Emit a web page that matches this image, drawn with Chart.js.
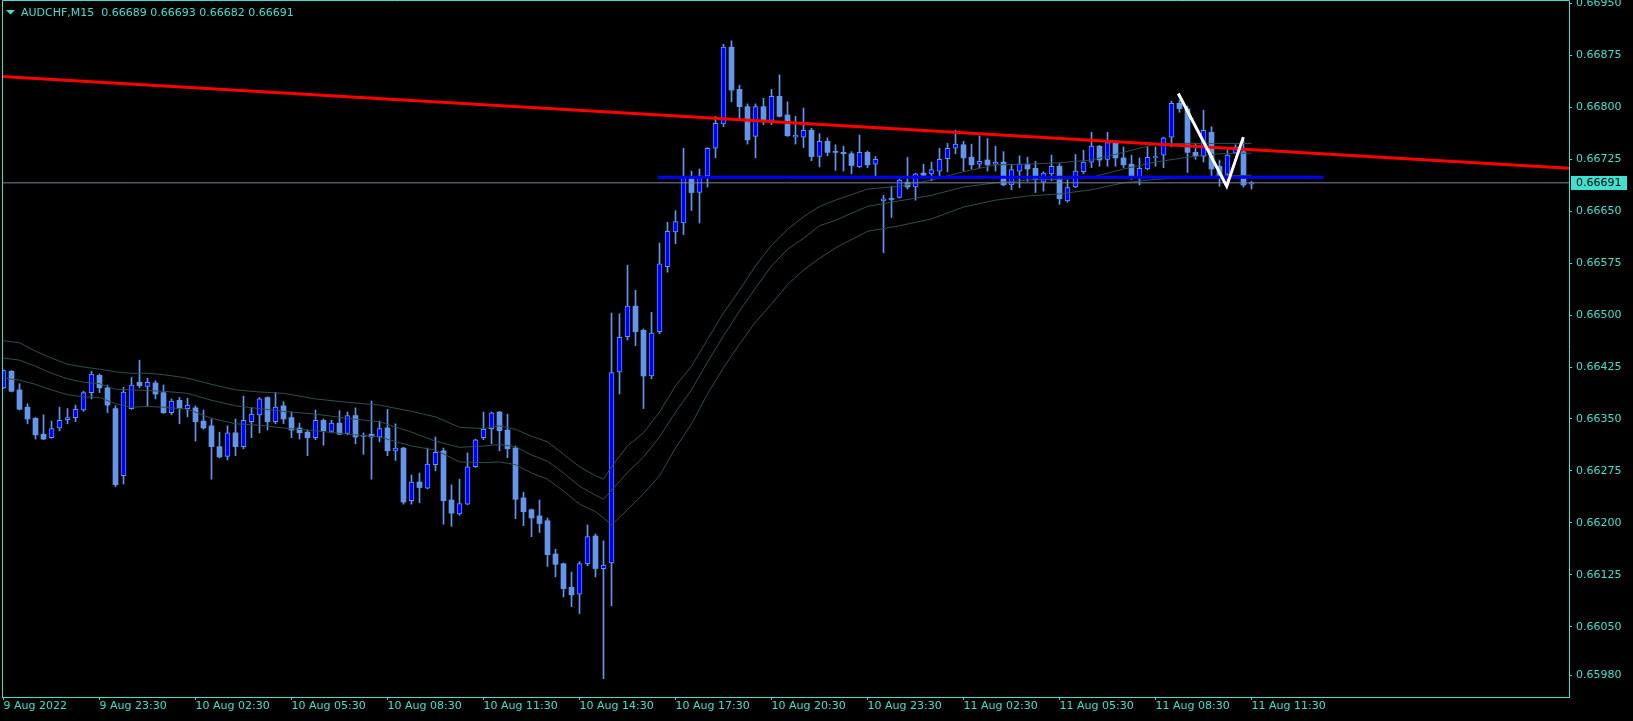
<!DOCTYPE html>
<html>
<head>
<meta charset="utf-8">
<style>
html,body{margin:0;padding:0;background:#000;overflow:hidden}
canvas{display:block}
</style>
<script src="https://cdn.jsdelivr.net/npm/chart.js"></script>
</head>
<body>
<canvas id="c" width="1633" height="721"></canvas>
<script>
// ---------- DATA (AUDCHF, M15) ----------
const symbolTitle = 'AUDCHF,M15';
const timeLabels = ['9 Aug 2022','9 Aug 23:30','10 Aug 02:30','10 Aug 05:30','10 Aug 08:30','10 Aug 11:30','10 Aug 14:30','10 Aug 17:30','10 Aug 20:30','10 Aug 23:30','11 Aug 02:30','11 Aug 05:30','11 Aug 08:30','11 Aug 11:30'];
const timeLabelBars = [0,12,24,36,48,60,72,84,96,108,120,132,144,156];
const priceTicks = [0.66950,0.66875,0.66800,0.66725,0.66650,0.66575,0.66500,0.66425,0.66350,0.66275,0.66200,0.66125,0.66050,0.65980];

const opens = [0.66395,0.66419,0.66392,0.66367,0.66351,0.66328,0.66323,0.66337,0.66349,0.66352,
0.66363,0.66388,0.66413,0.66395,0.66365,0.66268,0.66365,0.66403,0.66397,0.66402,
0.66388,0.66359,0.66377,0.66365,0.66366,0.66347,0.66340,0.66310,0.66296,0.66330,
0.66310,0.66346,0.66356,0.66381,0.66346,0.66369,0.66352,0.66337,0.66331,0.66323,
0.66348,0.66332,0.66344,0.66329,0.66355,0.66326,0.66328,0.66324,0.66337,0.66304,
0.66308,0.66232,0.66259,0.66250,0.66284,0.66304,0.66233,0.66213,0.66227,0.66281,
0.66323,0.66336,0.66360,0.66334,0.66308,0.66236,0.66219,0.66210,0.66203,0.66155,
0.66141,0.66107,0.66097,0.66141,0.66181,0.66134,0.66142,0.66418,0.66469,0.66513,
0.66478,0.66412,0.66476,0.66570,0.66620,0.66633,0.66697,0.66677,0.66701,0.66741,
0.66776,0.66887,0.66826,0.66801,0.66758,0.66801,0.66781,0.66816,0.66789,0.66757,
0.66757,0.66767,0.66729,0.66751,0.66736,0.66735,0.66733,0.66714,0.66735,0.66718,
0.66665,0.66668,0.66670,0.66692,0.66685,0.66705,0.66704,0.66708,0.66726,0.66741,
0.66746,0.66728,0.66718,0.66724,0.66718,0.66721,0.66688,0.66708,0.66718,0.66712,
0.66692,0.66704,0.66715,0.66665,0.66685,0.66707,0.66721,0.66744,0.66725,0.66749,
0.66727,0.66718,0.66699,0.66711,0.66727,0.66731,0.66757,0.66806,0.66798,0.66735,
0.66729,0.66764,0.66715,0.66703,0.66734,0.66736,0.66689];

const highs = [0.66421,0.66420,0.66401,0.66372,0.66352,0.66356,0.66347,0.66367,0.66365,0.66370,
0.66390,0.66419,0.66415,0.66399,0.66369,0.66396,0.66410,0.66435,0.66409,0.66405,
0.66399,0.66379,0.66381,0.66380,0.66369,0.66363,0.66350,0.66331,0.66340,0.66350,
0.66383,0.66366,0.66381,0.66382,0.66388,0.66375,0.66360,0.66344,0.66334,0.66363,
0.66350,0.66348,0.66362,0.66360,0.66366,0.66330,0.66376,0.66347,0.66364,0.66343,
0.66309,0.66269,0.66272,0.66308,0.66324,0.66308,0.66255,0.66263,0.66301,0.66321,
0.66360,0.66360,0.66361,0.66357,0.66311,0.66244,0.66220,0.66233,0.66207,0.66162,
0.66142,0.66129,0.66144,0.66197,0.66184,0.66174,0.66503,0.66502,0.66572,0.66536,
0.66480,0.66504,0.66604,0.66634,0.66651,0.66741,0.66708,0.66711,0.66742,0.66787,
0.66891,0.66896,0.66832,0.66805,0.66805,0.66813,0.66826,0.66847,0.66808,0.66787,
0.66799,0.66770,0.66762,0.66756,0.66746,0.66744,0.66736,0.66760,0.66737,0.66729,
0.66673,0.66686,0.66697,0.66728,0.66705,0.66718,0.66721,0.66741,0.66748,0.66767,
0.66751,0.66747,0.66759,0.66755,0.66744,0.66736,0.66718,0.66730,0.66728,0.66722,
0.66707,0.66731,0.66719,0.66695,0.66732,0.66738,0.66764,0.66745,0.66764,0.66751,
0.66743,0.66731,0.66727,0.66743,0.66743,0.66757,0.66809,0.66810,0.66802,0.66748,
0.66796,0.66772,0.66724,0.66739,0.66746,0.66753,0.66693];

const lows = [0.66394,0.66389,0.66363,0.66343,0.66321,0.66320,0.66322,0.66333,0.66343,0.66346,
0.66361,0.66379,0.66388,0.66359,0.66252,0.66256,0.66364,0.66395,0.66369,0.66379,
0.66358,0.66356,0.66343,0.66353,0.66318,0.66335,0.66263,0.66294,0.66291,0.66297,
0.66307,0.66323,0.66330,0.66334,0.66343,0.66343,0.66323,0.66321,0.66297,0.66320,
0.66312,0.66330,0.66327,0.66327,0.66314,0.66299,0.66263,0.66317,0.66297,0.66290,
0.66227,0.66227,0.66229,0.66249,0.66275,0.66198,0.66195,0.66211,0.66226,0.66280,
0.66320,0.66314,0.66304,0.66294,0.66206,0.66196,0.66180,0.66186,0.66137,0.66122,
0.66093,0.66079,0.66069,0.66138,0.66122,0.65975,0.66080,0.66386,0.66464,0.66456,
0.66365,0.66408,0.66473,0.66562,0.66603,0.66616,0.66651,0.66633,0.66685,0.66727,
0.66772,0.66808,0.66784,0.66747,0.66727,0.66775,0.66775,0.66786,0.66758,0.66747,
0.66742,0.66723,0.66714,0.66730,0.66709,0.66708,0.66704,0.66713,0.66713,0.66700,
0.66590,0.66641,0.66669,0.66682,0.66666,0.66700,0.66694,0.66700,0.66707,0.66733,
0.66708,0.66711,0.66713,0.66708,0.66708,0.66687,0.66681,0.66684,0.66693,0.66677,
0.66679,0.66694,0.66660,0.66663,0.66684,0.66704,0.66713,0.66715,0.66715,0.66715,
0.66713,0.66696,0.66688,0.66710,0.66715,0.66713,0.66743,0.66793,0.66706,0.66725,
0.66721,0.66700,0.66686,0.66687,0.66733,0.66685,0.66682];

const closes = [0.66420,0.66390,0.66364,0.66350,0.66327,0.66321,0.66336,0.66348,0.66352,0.66364,
0.66388,0.66415,0.66395,0.66370,0.66255,0.66389,0.66399,0.66398,0.66403,0.66386,
0.66359,0.66376,0.66365,0.66370,0.66346,0.66337,0.66310,0.66295,0.66330,0.66310,
0.66348,0.66357,0.66379,0.66346,0.66367,0.66350,0.66334,0.66330,0.66323,0.66348,
0.66333,0.66344,0.66328,0.66355,0.66324,0.66325,0.66324,0.66336,0.66304,0.66308,
0.66230,0.66259,0.66251,0.66285,0.66302,0.66232,0.66214,0.66228,0.66281,0.66320,
0.66335,0.66359,0.66333,0.66307,0.66234,0.66216,0.66207,0.66199,0.66154,0.66140,
0.66105,0.66096,0.66141,0.66180,0.66134,0.66139,0.66417,0.66468,0.66513,0.66476,
0.66412,0.66474,0.66574,0.66621,0.66635,0.66699,0.66677,0.66701,0.66741,0.66777,
0.66887,0.66825,0.66801,0.66753,0.66801,0.66782,0.66816,0.66787,0.66759,0.66760,
0.66767,0.66729,0.66751,0.66735,0.66735,0.66733,0.66716,0.66735,0.66717,0.66725,
0.66668,0.66667,0.66695,0.66685,0.66704,0.66702,0.66710,0.66725,0.66741,0.66747,
0.66727,0.66717,0.66722,0.66717,0.66721,0.66688,0.66710,0.66718,0.66711,0.66696,
0.66705,0.66715,0.66668,0.66684,0.66708,0.66721,0.66744,0.66724,0.66749,0.66727,
0.66717,0.66700,0.66712,0.66728,0.66729,0.66756,0.66806,0.66798,0.66735,0.66730,
0.66767,0.66711,0.66700,0.66731,0.66743,0.66688,0.66691];

// indicator lines, read at sampled bars
const maBars = [0,2,4,6,8,10,12,14,16,18,20,23,26,29,32,35,39,43,47,51,54,57,60,62,64,66,68,70,72,74,75,76,78,80,82,84,86,88,90,92,94,96,98,100,102,104,108,112,116,120,124,128,132,136,140,144,148,152,156];
const maUpper = [0.66463,0.66460,0.66448,0.66438,0.66429,0.66425,0.66422,0.66418,0.66416,0.66416,0.66414,
0.66409,0.66400,0.66392,0.66389,0.66387,0.66379,0.66374,0.66370,0.66361,0.66353,0.66338,0.66336,
0.66340,0.66335,0.66325,0.66317,0.66299,0.66281,0.66268,0.66263,0.66281,
0.66311,0.66330,0.66360,0.66398,0.66426,0.66465,0.66503,0.66536,0.66571,0.66601,0.66624,0.66642,0.66657,0.66666,
0.66682,0.66686,0.66695,0.66707,0.66717,0.66718,0.66720,0.66724,0.66735,0.66747,0.66748,0.66748,0.66748];
const maMiddle = [0.66438,0.66435,0.66426,0.66416,0.66408,0.66403,0.66401,0.66393,0.66392,0.66391,0.66390,
0.66387,0.66377,0.66369,0.66365,0.66361,0.66357,0.66351,0.66346,0.66331,0.66318,0.66309,0.66311,
0.66313,0.66310,0.66298,0.66289,0.66272,0.66253,0.66240,0.66234,0.66247,
0.66273,0.66295,0.66324,0.66360,0.66392,0.66432,0.66470,0.66506,0.66539,0.66571,0.66595,0.66611,0.66629,0.66637,
0.66657,0.66665,0.66673,0.66685,0.66691,0.66695,0.66696,0.66699,0.66711,0.66721,0.66728,0.66733,0.66734];
const maLower = [0.66409,0.66406,0.66400,0.66392,0.66385,0.66382,0.66381,0.66372,0.66367,0.66368,0.66367,
0.66364,0.66351,0.66343,0.66341,0.66337,0.66333,0.66328,0.66324,0.66311,0.66305,0.66288,0.66287,
0.66288,0.66284,0.66272,0.66263,0.66246,0.66227,0.66216,0.66207,0.66197,
0.66219,0.66242,0.66268,0.66308,0.66343,0.66386,0.66424,0.66458,0.66490,0.66516,0.66544,0.66565,0.66582,0.66597,
0.66621,0.66629,0.66639,0.66656,0.66666,0.66672,0.66675,0.66681,0.66691,0.66696,0.66699,0.66701,0.66702];

// drawn objects (bar index, price)
const trendBars = [-1, 196];
const trendPrices = [0.66845, 0.66712];
const levelBars = [81.8, 165.0];
const levelPrice = 0.66699;
const vBars = [146.85, 152.9, 154.98];
const vPrices = [0.66820, 0.66686, 0.66757];
const bidPrice = 0.66691;
const lastBar = { o: 0.66689, h: 0.66693, l: 0.66682, c: 0.66691 };

// ---------- STYLE ----------
const TURQ = '#40E0D0';
const BULL_FILL = '#0000FF';
const CANDLE_LINE = '#6495ED';
const MA_COLOR = '#2F4F4F';
const FONT = 'DejaVu Sans';

Chart.defaults.font.family = FONT;
Chart.defaults.font.size = 11;

const wicks = [], bullBodies = [], bearBodies = [];
for (let i = 0; i < opens.length; i++) {
  wicks.push({ x: i, y: [lows[i], highs[i]] });
  const b = { x: i, y: [opens[i], closes[i]] };
  if (closes[i] >= opens[i]) bullBodies.push(b); else bearBodies.push(b);
}
const toPts = (xs, ys) => xs.map((x, i) => ({ x: x, y: Array.isArray(ys) ? ys[i] : ys }));

const overlay = {
  id: 'mt4overlay',
  beforeDraw(chart) {
    const ctx = chart.ctx;
    ctx.save();
    ctx.fillStyle = '#000';
    ctx.fillRect(0, 0, chart.width, chart.height);
    ctx.restore();
  },
  afterDraw(chart) {
    const ctx = chart.ctx;
    const a = chart.chartArea;
    const ys = chart.scales.y;
    ctx.save();
    // frame
    ctx.strokeStyle = TURQ;
    ctx.lineWidth = 1;
    ctx.beginPath();
    ctx.moveTo(a.left + 0.5, a.bottom);
    ctx.lineTo(a.left + 0.5, 0.5);
    ctx.lineTo(a.right + 0.5, 0.5);
    ctx.stroke();
    // bid label
    const yb = ys.getPixelForValue(bidPrice);
    ctx.fillStyle = TURQ;
    ctx.fillRect(a.right + 2, Math.round(yb) - 7, 56, 14);
    ctx.fillStyle = '#000';
    ctx.font = '11px "' + FONT + '"';
    ctx.textBaseline = 'middle';
    ctx.textAlign = 'left';
    ctx.fillText(bidPrice.toFixed(5), a.right + 7, yb);
    // title
    ctx.fillStyle = TURQ;
    ctx.beginPath();
    ctx.moveTo(6, 10); ctx.lineTo(15, 10); ctx.lineTo(10.5, 14.5); ctx.closePath();
    ctx.fill();
    ctx.textBaseline = 'alphabetic';
    ctx.fillText(symbolTitle + '  ' + [lastBar.o, lastBar.h, lastBar.l, lastBar.c].map(v => v.toFixed(5)).join(' '), 21, 16);
    ctx.restore();
  }
};

new Chart(document.getElementById('c'), {
  type: 'bar',
  data: {
    datasets: [
      { type: 'line', label: 'V', data: toPts(vBars, vPrices), borderColor: '#FFFFFF', borderWidth: 3, pointRadius: 0, order: 0, clip: 0 },
      { type: 'line', label: 'level', data: toPts(levelBars, levelPrice), borderColor: '#0000FF', borderWidth: 3, pointRadius: 0, order: 1, clip: 0 },
      { type: 'line', label: 'trend', data: toPts(trendBars, trendPrices), borderColor: '#FF0000', borderWidth: 3, pointRadius: 0, order: 2, clip: 0 },
      { type: 'line', label: 'bid', data: toPts([-1, 197], bidPrice), borderColor: '#778899', borderWidth: 1, pointRadius: 0, order: 3, clip: 0 },
      { type: 'line', label: 'upper', data: toPts(maBars, maUpper), borderColor: MA_COLOR, borderWidth: 1, pointRadius: 0, order: 4, clip: 0 },
      { type: 'line', label: 'middle', data: toPts(maBars, maMiddle), borderColor: MA_COLOR, borderWidth: 1, pointRadius: 0, order: 4, clip: 0 },
      { type: 'line', label: 'lower', data: toPts(maBars, maLower), borderColor: MA_COLOR, borderWidth: 1, pointRadius: 0, order: 4, clip: 0 },
      { type: 'bar', label: 'bull', data: bullBodies, backgroundColor: BULL_FILL, borderColor: CANDLE_LINE, borderWidth: 1, borderSkipped: false, barThickness: 5, minBarLength: 1, grouped: false, order: 5 },
      { type: 'bar', label: 'bear', data: bearBodies, backgroundColor: CANDLE_LINE, borderWidth: 0, borderSkipped: false, barThickness: 5, minBarLength: 1, grouped: false, order: 5 },
      { type: 'bar', label: 'wick', data: wicks, backgroundColor: CANDLE_LINE, borderWidth: 0, barThickness: 1, minBarLength: 1, grouped: false, order: 6 }
    ]
  },
  options: {
    responsive: false,
    animation: false,
    events: [],
    layout: { padding: { left: 2, top: 1, right: 0, bottom: 0 } },
    plugins: { legend: { display: false }, tooltip: { enabled: false }, title: { display: false } },
    elements: { line: { tension: 0 } },
    scales: {
      x: {
        type: 'linear', position: 'bottom', min: -0.1875, max: 195.6875, offset: false,
        afterBuildTicks: s => { s.ticks = timeLabelBars.map(v => ({ value: v })); },
        afterFit: s => { s.height = 24; s.paddingLeft = 0; s.paddingRight = 0; },
        ticks: { color: TURQ, padding: 0, align: 'start', maxRotation: 0, minRotation: 0, autoSkip: false,
                 callback: v => timeLabels[timeLabelBars.indexOf(v)] },
        grid: { drawOnChartArea: false, drawTicks: true, tickLength: 3, color: TURQ, offset: false },
        border: { display: true, color: TURQ }
      },
      y: {
        type: 'linear', position: 'right', min: 0.659485, max: 0.669536,
        afterBuildTicks: s => { s.ticks = priceTicks.map(v => ({ value: v })); },
        afterFit: s => { s.width = 64; s.paddingTop = 0; s.paddingBottom = 0; },
        ticks: { color: TURQ, padding: 4, autoSkip: false, callback: v => v.toFixed(5) },
        grid: { drawOnChartArea: false, drawTicks: true, tickLength: 3, color: TURQ },
        border: { display: true, color: TURQ }
      }
    }
  },
  plugins: [overlay]
});
</script>
</body>
</html>
